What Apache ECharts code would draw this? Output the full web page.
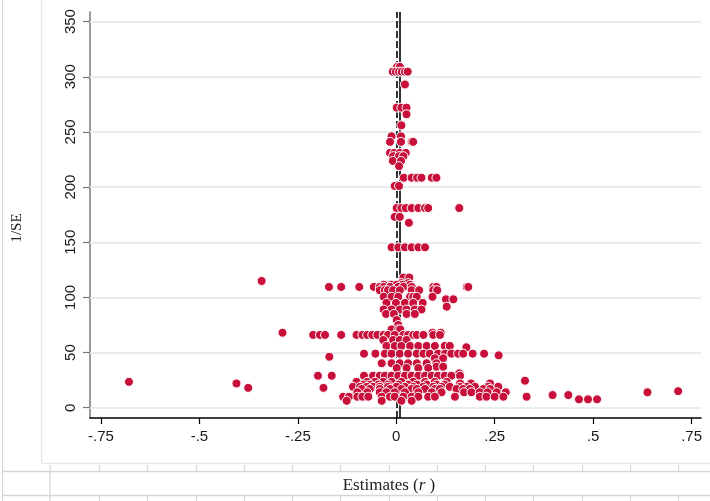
<!DOCTYPE html>
<html><head><meta charset="utf-8">
<script src="https://cdn.jsdelivr.net/npm/echarts@6/dist/echarts.min.js"></script>
<style>html,body{margin:0;padding:0;background:#fff}#c{width:710px;height:501px}</style>
</head><body><div id="c"></div>
<script>
// 1/SE levels (precision) and the study estimates (r) observed at each level
const levels = [309, 304.6, 293, 272, 266, 256, 246, 241, 231, 228, 223.7, 219, 208.5, 201, 181, 173, 167.7, 145.4,
  118, 114.9, 113, 111.5, 109.5, 106.5, 100.6, 98.3, 95, 91.6, 89, 85, 79.5, 75, 71, 68, 66, 61.4, 56, 54.8, 49, 47.5,
  46.2, 44.8, 40.3, 37.2, 36, 31.2, 29, 24.5, 23.5, 22, 21, 19, 18, 17, 15, 14, 11.5, 10, 7.6, 6.3];
const estimatesAtLevel = [
  [0.002, 0.009],
  [-0.009, -0.001, 0.007, 0.014, 0.022, 0.029],
  [0.022],
  [0.001, 0.013, 0.026],
  [0.026],
  [0.013],
  [-0.012, 0.012],
  [-0.016, 0.012, 0.039, 0.043],
  [-0.016, -0.005, 0.009, 0.024],
  [-0.008, 0.007, 0.018],
  [-0.009, 0.012],
  [0.007],
  [0.019, 0.039, 0.053, 0.064, 0.090, 0.102],
  [-0.004, 0.007],
  [0.001, 0.013, 0.024, 0.039, 0.056, 0.073, 0.081, 0.160],
  [-0.004, 0.009],
  [0.032],
  [-0.012, 0.005, 0.022, 0.039, 0.056, 0.073],
  [0.018, 0.033],
  [-0.342],
  [0.013, 0.030],
  [-0.032, -0.012, 0.001, 0.016, 0.035],
  [-0.171, -0.140, -0.094, -0.057, -0.042, -0.032, -0.016, 0.005, 0.018, 0.039, 0.094, 0.102, 0.179, 0.183],
  [-0.042, -0.029, -0.021, -0.008, 0.009, 0.039, 0.058, 0.094, 0.104],
  [-0.032, -0.012, 0.005, 0.035, 0.043, 0.052, 0.092],
  [0.126, 0.145],
  [-0.025, -0.001, 0.022, 0.043, 0.067],
  [0.128],
  [-0.032, -0.012, 0.009, 0.026, 0.047, 0.064],
  [-0.026, -0.006, 0.026, 0.047],
  [0.001],
  [0.005],
  [-0.012, 0.005, 0.010],
  [-0.289, 0.092, 0.113],
  [-0.211, -0.194, -0.181, -0.140, -0.101, -0.086, -0.074, -0.061, -0.048, -0.032, -0.021, -0.004, 0.018, 0.030, 0.043, 0.052, 0.069, 0.094, 0.111],
  [-0.033, -0.008, 0.009, 0.026],
  [-0.025, -0.004, 0.013, 0.035, 0.056, 0.077, 0.098, 0.123, 0.136],
  [0.178],
  [-0.082, -0.053, -0.029, -0.012, 0.009, 0.030, 0.052, 0.069, 0.085, 0.106, 0.124, 0.140, 0.157, 0.170, 0.194, 0.223],
  [0.260],
  [-0.170],
  [0.098, 0.119],
  [-0.037, -0.012, 0.009, 0.030, 0.052, 0.077, 0.102],
  [0.102, 0.119],
  [0.001, 0.026, 0.056, 0.081],
  [0.160],
  [-0.199, -0.164, -0.082, -0.059, -0.042, -0.029, -0.012, 0.005, 0.022, 0.039, 0.056, 0.073, 0.090, 0.106, 0.123, 0.140, 0.162],
  [0.327],
  [-0.679, -0.101, -0.074, -0.054, -0.033, -0.012, 0.013, 0.043, 0.073, 0.098, 0.128],
  [-0.406, 0.162, 0.190, 0.238],
  [-0.084, -0.067, -0.046, -0.021, 0.005, 0.030, 0.052, 0.077, 0.102, 0.123],
  [-0.110, -0.092, -0.075, -0.059, -0.042, -0.021, 0.001, 0.022, 0.043, 0.068, 0.094, 0.115, 0.136, 0.162, 0.179, 0.200, 0.233, 0.259],
  [-0.376, -0.185],
  [-0.088, -0.067, -0.042, -0.016, 0.013, 0.039, 0.052, 0.073, 0.098, 0.111, 0.153, 0.170, 0.187, 0.221, 0.238],
  [0.716],
  [-0.099, -0.074, -0.042, -0.025, -0.004, 0.022, 0.056, 0.090, 0.115, 0.172, 0.191, 0.212, 0.232, 0.255, 0.278, 0.638],
  [0.397, 0.437],
  [-0.135, -0.120, -0.099, -0.086, -0.071, -0.037, -0.016, -0.004, 0.018, 0.039, 0.056, 0.081, 0.098, 0.149, 0.212, 0.229, 0.250, 0.272, 0.331],
  [0.464, 0.487, 0.510],
  [-0.126, -0.037, 0.013, 0.039]
];
const xTicks = [-0.75, -0.5, -0.25, 0, 0.25, 0.5, 0.75];
const yTicks = [0, 50, 100, 150, 200, 250, 300, 350];
const nullEffect = 0;
const pooledEffect = 0.0125;
const xRange = [-0.778, 0.774];
const yRange = [-9.3, 358.7];

const points = [];
levels.forEach((lv, i) => estimatesAtLevel[i].forEach(x => points.push([x, lv])));

const fmtX = v => v === 0 ? '0' : (v < 0 ? '-' : '') + String(Math.abs(v)).replace(/^0/, '');

const decor = [];
const gray = '#d6d6d6', pale = '#e3eaed';
decor.push({type:'line', shape:{x1:2.5,y1:0,x2:2.5,y2:501}, style:{stroke:gray, lineWidth:1.2}});
decor.push({type:'line', shape:{x1:41.5,y1:0,x2:41.5,y2:463.5}, style:{stroke:pale, lineWidth:1.5}});
decor.push({type:'line', shape:{x1:41.5,y1:463.5,x2:710,y2:463.5}, style:{stroke:pale, lineWidth:1.5}});
decor.push({type:'line', shape:{x1:2,y1:471.5,x2:710,y2:471.5}, style:{stroke:gray, lineWidth:1.5}});
decor.push({type:'line', shape:{x1:2,y1:495.5,x2:710,y2:495.5}, style:{stroke:gray, lineWidth:1.5}});
decor.push({type:'line', shape:{x1:50,y1:465,x2:50,y2:501}, style:{stroke:gray, lineWidth:1.2}});
for (let i = 0; i < 13; i++) {
  const x = Math.round(99 + i * 48.25) + 0.5;
  decor.push({type:'line', shape:{x1:x,y1:465,x2:x,y2:471}, style:{stroke:gray, lineWidth:1.2}});
  decor.push({type:'line', shape:{x1:x,y1:496,x2:x,y2:501}, style:{stroke:gray, lineWidth:1.2}});
}
decor.push({type:'text', x:17, y:228, rotation:Math.PI/2,
  style:{text:'1/SE', font:'15px "Liberation Serif", serif', fill:'#222', align:'center', verticalAlign:'middle'}});
decor.push({type:'text', x:389, y:486,
  style:{text:'{n|Estimates (}{i|r}{n| )}', align:'center', verticalAlign:'middle',
    rich:{n:{font:'17px "Liberation Serif", serif', fill:'#222'}, i:{font:'italic 17px "Liberation Serif", serif', fill:'#222'}}}});

const chart = echarts.init(document.getElementById('c'), null, {renderer:'canvas'});
chart.setOption({
  animation: false,
  backgroundColor: '#fff',
  grid: {left: 90, right: 9, top: 12, bottom: 83},
  xAxis: {
    type: 'value', min: xRange[0], max: xRange[1],
    axisLine: {show: true, onZero: false, lineStyle: {color: '#000', width: 1.5}},
    axisTick: {show: true, length: 6, customValues: xTicks, lineStyle: {color: '#000', width: 1.2}},
    axisLabel: {customValues: xTicks, formatter: fmtX, margin: 11, fontFamily: '"Liberation Sans", Arial, sans-serif', fontSize: 15, color: '#1a1a1a'},
    splitLine: {show: false}
  },
  yAxis: {
    type: 'value', min: yRange[0], max: yRange[1],
    axisLine: {show: true, onZero: false, lineStyle: {color: '#777', width: 1.5}},
    axisTick: {show: true, length: 7, customValues: yTicks, lineStyle: {color: '#777', width: 1.2}},
    axisLabel: {customValues: yTicks, rotate: 90, margin: 12, fontFamily: '"Liberation Sans", Arial, sans-serif', fontSize: 15, color: '#1a1a1a'},
    splitLine: {show: false}
  },
  graphic: decor,
  series: [
    {
      type: 'line', data: [], silent: true, z: 1,
      markLine: {
        silent: true, symbol: ['none', 'none'], z: 1, label: {show: false},
        data: yTicks.map(v => ({yAxis: v, lineStyle: {color: '#e6edf0', width: 1.8, type: 'solid'}}))
          .concat([
            {xAxis: nullEffect, lineStyle: {color: '#000', width: 1.6, type: [7, 3]}},
            {xAxis: pooledEffect, lineStyle: {color: '#000', width: 1.6, type: 'solid'}}
          ])
      }
    },
    {
      type: 'scatter', data: points, z: 3, symbol: 'circle', symbolSize: 9,
      itemStyle: {color: '#c8103a', borderColor: '#fff', borderWidth: 1, opacity: 1}
    }
  ]
});
</script></body></html>
